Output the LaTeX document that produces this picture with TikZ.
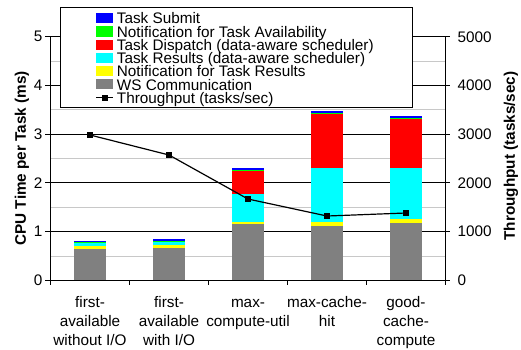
\documentclass[tikz,border=0pt]{standalone}
\usepackage{fontspec}
\setmainfont{Liberation Sans}
\definecolor{wsgray}{RGB}{128,128,128}
\definecolor{cblue}{RGB}{0,0,255}
\definecolor{cgreen}{RGB}{0,255,0}
\definecolor{cred}{RGB}{255,0,0}
\definecolor{ccyan}{RGB}{0,255,255}
\definecolor{cyel}{RGB}{255,255,0}
\definecolor{minorgrid}{RGB}{200,200,200}
\begin{document}
\begin{tikzpicture}[x=1pt,y=1pt,
  lab/.style={font=\fontsize{15.3}{18.9}\selectfont, inner sep=0pt},
  ttl/.style={font=\fontsize{15.3}{18.9}\selectfont\bfseries, inner sep=0pt, rotate=90},
  majorgrid/.style={draw=black, line width=0.9pt},
  minorline/.style={draw=minorgrid, line width=0.9pt},
  axisline/.style={draw=black, line width=0.9pt},
  tpmark/.style={rectangle, fill=black, minimum size=6pt, inner sep=0pt},
  tpline/.style={draw=black, line width=1.2pt}]
\useasboundingbox (0,0) rectangle (521,349);
\begin{scope}[shift={(0pt,68.7pt)}, y=48.7pt]
  % grid
  \foreach \v in {0.5,1.5,2.5,3.5,4.5} \draw[minorline] (50,\v) -- (445,\v);
  \foreach \v in {1,2,3,4,5} \draw[majorgrid] (50,\v) -- (445,\v);
  % bars
  \foreach \xc/\ga/\ya/\cy/\re/\gr/\bl in {
      90/0.64/0.70/0.76/0.78/0.785/0.805,
      169/0.663/0.725/0.786/0.80/0.81/0.848,
      248/1.156/1.197/1.772/2.265/2.27/2.306,
      327/1.115/1.197/2.306/3.415/3.44/3.476,
      406/1.177/1.259/2.306/3.312/3.335/3.374} {
    \fill[wsgray] (\xc-16,0) rectangle (\xc+16,\ga);
    \fill[cyel] (\xc-16,\ga) rectangle (\xc+16,\ya);
    \fill[ccyan] (\xc-16,\ya) rectangle (\xc+16,\cy);
    \fill[cred] (\xc-16,\cy) rectangle (\xc+16,\re);
    \fill[cgreen] (\xc-16,\re) rectangle (\xc+16,\gr);
    \fill[cblue] (\xc-16,\gr) rectangle (\xc+16,\bl);
  }
  % axes
  \draw[axisline] (50,0) -- (50,5);
  \draw[axisline] (445,0) -- (445,5);
  \draw[axisline] (50,0) -- (445,0);
  \foreach \v in {0,1,2,3,4,5} {
    \draw[axisline] (45,\v) -- (50,\v);
    \draw[axisline] (445,\v) -- (450,\v);
    \node[lab, anchor=east] (yl\v) at (42.5,\v) {\v};
  }
  \foreach \v/\t in {0/0,1/1000,2/2000,3/3000,4/4000,5/5000}
    \node[lab, anchor=west] (yr\v) at (457.5,\v) {\t};
  \foreach \xt in {50,129,208,287,366,445}
    \draw[axisline] (\xt,0) -- (\xt,-0.1);
  % throughput
  \node[tpmark] (p1) at (90,2.984) {};
  \node[tpmark] (p2) at (169,2.573) {};
  \node[tpmark] (p3) at (248,1.669) {};
  \node[tpmark] (p4) at (327,1.320) {};
  \node[tpmark] (p5) at (406,1.382) {};
  \draw[tpline] (p1.center) -- (p2.center) -- (p3.center) -- (p4.center) -- (p5.center);
\end{scope}
% axis titles
\node[ttl] (ytl) at (22,190.7) {CPU Time per Task (ms)};
\node[ttl] (ytr) at (511,193) {Throughput (tasks/sec)};
% category labels (one node per line, baselines 307.3 / 326.2 / 345.1 px)
\foreach \xc/\la/\lb/\lc/\nm in {
    90/first-/available/without I\slash O/c1,
    169/first-/available/with I\slash O/c2,
    248/max-/compute-util//c3,
    327/max-cache-/hit//c4,
    406/good-/cache-/compute/c5} {
  \node[lab, anchor=base] (\nm a) at (\xc,41.7) {\la};
  \node[lab, anchor=base] (\nm b) at (\xc,22.8) {\lb};
  \node[lab, anchor=base] (\nm c) at (\xc,3.9) {\lc};
}
% legend
\node[draw=black, fill=white, line width=0.9pt, inner sep=0pt, minimum width=351.7pt, minimum height=100pt, anchor=north west] (legend) at (60,341.7) {};
\foreach \b/\col/\txt/\nm in {
   325/cblue/Task Submit/ls,
   311.8/cgreen/Notification for Task Availability/la,
   298.6/cred/Task Dispatch (data-aware scheduler)/ld,
   285.4/ccyan/Task Results (data-aware scheduler)/lr,
   272.2/cyel/Notification for Task Results/ln,
   259/wsgray/WS Communication/lw} {
  \fill[\col] (96,\b+0.7) rectangle (113,\b+10.7);
  \node[lab, anchor=base west, text height=10.5pt, text depth=1.5pt] (\nm) at (116.7,\b) {\txt};
}
\coordinate (tla) at (96,251.3);
\coordinate (tlb) at (113,251.3);
\draw[tpline] (tla) -- (tlb);
\node[tpmark] (tlm) at (104.5,251.3) {};
\node[lab, anchor=base west, text height=10.5pt, text depth=1.5pt] (lt) at (116.7,245.8) {Throughput (tasks/sec)};
\end{tikzpicture}
\end{document}
